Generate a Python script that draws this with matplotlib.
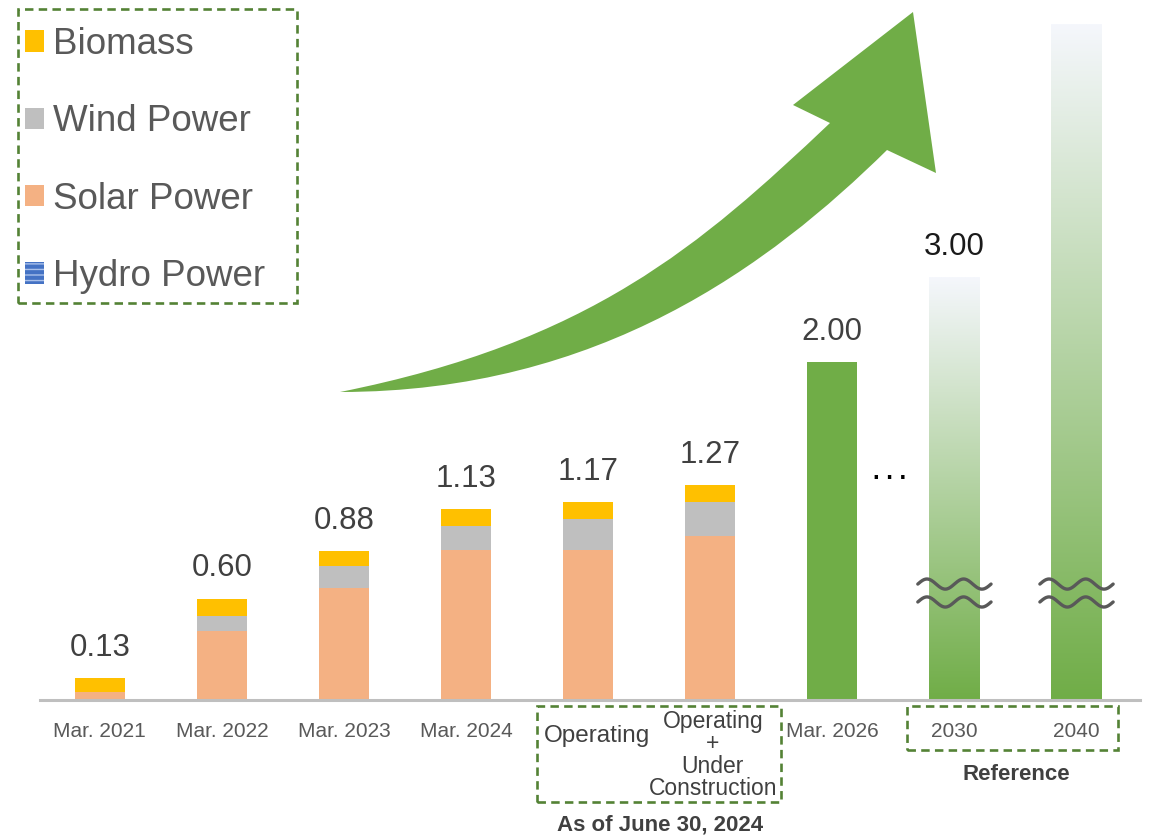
import numpy as np
import matplotlib.pyplot as plt
from matplotlib.patches import Patch, Rectangle, PathPatch
from matplotlib.path import Path
from matplotlib.colors import LinearSegmentedColormap
from matplotlib.transforms import blended_transform_factory

plt.rcParams['font.family'] = ['Liberation Sans', 'DejaVu Sans']

# capacity (GW) by period
categories = ['Mar. 2021', 'Mar. 2022', 'Mar. 2023', 'Mar. 2024', 'Operating',
              'Operating\n+\nUnder\nConstruction', 'Mar. 2026', '2030', '2040']
hydro = [0.00, 0.00, 0.00, 0.00, 0.00, 0.00]
solar = [0.05, 0.41, 0.66, 0.89, 0.89, 0.97]
wind = [0.00, 0.09, 0.13, 0.14, 0.18, 0.20]
biomass = [0.08, 0.10, 0.09, 0.10, 0.10, 0.10]
totals = [0.13, 0.60, 0.88, 1.13, 1.17, 1.27]
target_2026 = 2.00
reference_values = [3.00, 5.00]
reference_labels = ['3.00', '']

C_BIO = '#FFC000'
C_WIND = '#BFBFBF'
C_SOLAR = '#F4B183'
C_HYDRO = '#4472C4'
C_GREEN = '#70AD47'
C_DASH = '#548235'
C_TEXT = '#404040'
C_TICK = '#595959'

W, H = 1151, 835
fig = plt.figure(figsize=(W / 100, H / 100), dpi=100)
ax = fig.add_axes([40 / W, 135 / H, 1100 / W, 700 / H])
ax.set_xlim(-0.49, 8.52)
ax.set_ylim(0, 700 / 169)
ax.set_autoscale_on(False)


def px(x, y):
    """pixel position (from top-left) -> figure fraction"""
    return x / W, 1 - y / H


# the 2030/2040 bars sit on a broken scale above 1.0
BREAK, SQUEEZE = 1.0, 0.75


def shown(v):
    return v if v <= BREAK else BREAK + (v - BREAK) * SQUEEZE


bw = 0.41
lab_kw = dict(xytext=(0, 11), textcoords='offset points', ha='center',
              va='bottom', fontsize=22.5)

x_hist = np.arange(len(totals))
bottom = np.zeros(len(totals))
for vals, col, hatch in [(hydro, C_HYDRO, '---'), (solar, C_SOLAR, None),
                         (wind, C_WIND, None), (biomass, C_BIO, None)]:
    ax.bar(x_hist, vals, bw, bottom=bottom, color=col, hatch=hatch, linewidth=0)
    bottom += np.array(vals)

for x, t in zip(x_hist, totals):
    ax.annotate(f'{t:.2f}', (x, t), color=C_TEXT, **lab_kw)

x26 = 6
ax.bar(x26, target_2026, bw, color=C_GREEN, linewidth=0)
ax.annotate(f'{target_2026:.2f}', (x26, target_2026), color=C_TEXT, **lab_kw)

# faded bars for the reference years
fade = LinearSegmentedColormap.from_list('fade', [C_GREEN, '#F5F7FC'])
grad = np.linspace(0, 1, 256).reshape(-1, 1)
for x, v, lab in zip([7, 8], reference_values, reference_labels):
    top = shown(v)
    ax.imshow(grad, cmap=fade, origin='lower', aspect='auto',
              extent=(x - bw / 2, x + bw / 2, 0, top), zorder=2)
    if lab:
        ax.annotate(lab, (x, top), color='#1A1A1A', **lab_kw)
    u = np.linspace(0, 1, 200)
    for yc in (0.686, 0.580):
        ax.plot(x - 0.3 + 0.6 * u, yc + 0.03 * np.sin(4 * np.pi * u),
                color=C_TICK, lw=2.4, solid_capstyle='round', zorder=3)

ax.text(6.47, 1.31, '. . .', ha='center', va='baseline', fontsize=17,
        fontweight='bold', color='black')

# axis styling
for s in ['top', 'right', 'left']:
    ax.spines[s].set_visible(False)
ax.spines['bottom'].set_color('#BFBFBF')
ax.spines['bottom'].set_linewidth(2.2)
ax.set_yticks([])
tick_idx = [0, 1, 2, 3, 6, 7, 8]
ax.set_xticks(tick_idx, [categories[i] for i in tick_idx])
ax.tick_params(axis='x', length=0, pad=15.5, labelsize=15, labelcolor=C_TICK)

bt = blended_transform_factory(ax.transData, fig.transFigure)
ax.text(4.07, 1 - 736 / H, categories[4], transform=bt, ha='center', va='center',
        fontsize=17.5, color=C_TEXT)
ax.text(5.02, 1 - 755 / H, categories[5], transform=bt, ha='center', va='center',
        fontsize=16.5, color=C_TEXT, linespacing=0.95)
ax.text(4.59, 1 - 825 / H, 'As of June 30, 2024', transform=bt, ha='center',
        va='center', fontsize=16, fontweight='bold', color=C_TEXT)
ax.text(7.51, 1 - 775 / H, 'Reference', transform=bt, ha='center',
        va='center', fontsize=16, fontweight='bold', color=C_TEXT)

dash = dict(fill=False, edgecolor=C_DASH, linewidth=1.9, linestyle=(0, (3.2, 2)))
for x0, x1, y0, y1 in [(3.58, 5.58, 706, 802), (6.61, 8.34, 706, 750)]:
    ax.add_patch(Rectangle((x0, 1 - y1 / H), x1 - x0, (y1 - y0) / H,
                           transform=bt, clip_on=False, **dash))

# legend with its own dashed frame
handles = [Patch(facecolor=C_BIO, linewidth=0),
           Patch(facecolor=C_WIND, linewidth=0),
           Patch(facecolor=C_SOLAR, linewidth=0),
           Patch(facecolor=C_HYDRO, edgecolor='#A9C0EA', hatch='---', linewidth=0)]
labels = ['Biomass', 'Wind Power', 'Solar Power', 'Hydro Power']
fig.legend(handles, labels, loc='upper left', bbox_to_anchor=px(25, 27),
           frameon=False, borderpad=0, borderaxespad=0, fontsize=26.5,
           labelcolor=C_TICK, handlelength=0.52, handleheight=0.52,
           handletextpad=0.25, labelspacing=1.15)
fig.patches.append(Rectangle(px(18, 303), 279 / W, 294 / H,
                             transform=fig.transFigure, figure=fig, **dash))

# growth arrow
pts = [px(340, 392),
       px(590, 342), px(700, 246), px(830, 123),
       px(793, 105), px(913, 12), px(936, 173), px(887, 150),
       px(770, 265), px(600, 392), px(340, 392)]
codes = [Path.MOVETO, Path.CURVE4, Path.CURVE4, Path.CURVE4,
         Path.LINETO, Path.LINETO, Path.LINETO, Path.LINETO,
         Path.CURVE4, Path.CURVE4, Path.CURVE4]
fig.patches.append(PathPatch(Path(pts, codes), facecolor=C_GREEN, edgecolor='none',
                             transform=fig.transFigure, figure=fig))

fig.savefig('out.png', dpi=100)
